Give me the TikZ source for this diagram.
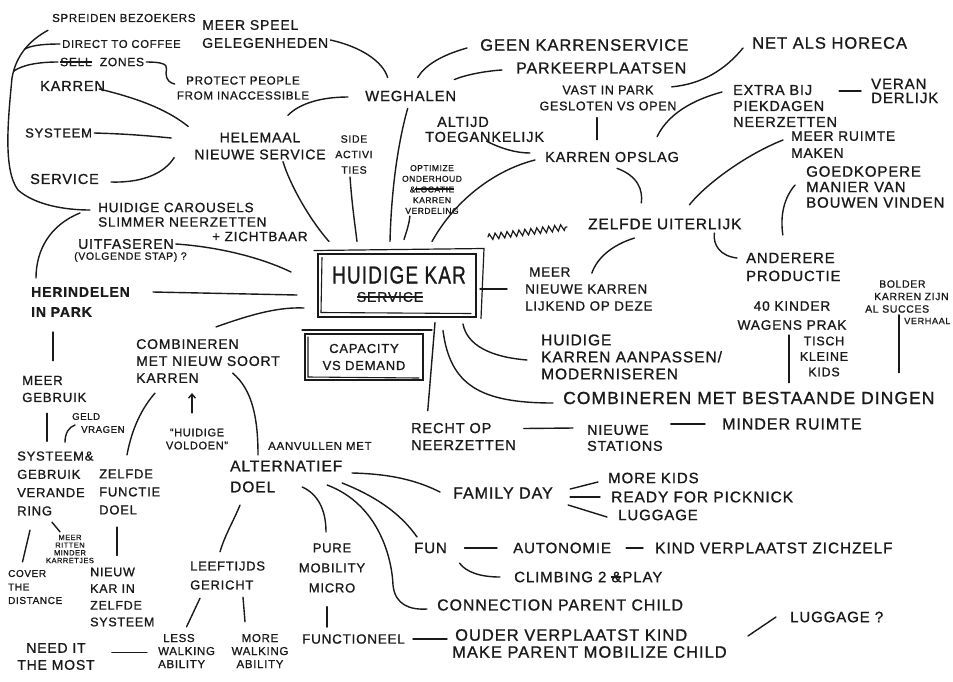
\documentclass[tikz,border=0pt]{standalone}
\usepackage{fontspec}
\newfontfamily\hand[LetterSpace=6,FakeBold=1]{Liberation Sans}
\usetikzlibrary{calc,decorations.pathmorphing,arrows.meta}
\newlength\strklen
\newcommand\strk[1]{\settowidth{\strklen}{#1}\rlap{\rule[0.3em]{\strklen}{1.4pt}}#1}
\definecolor{ink}{HTML}{1A1A1A}
\tikzset{
  ft/.style 2 args={font=\hand\fontsize{#1}{#2}\selectfont},
  ftb/.style 2 args={font=\hand\bfseries\fontsize{#1}{#2}\selectfont},
  lbl/.style={inner sep=2pt, align=left, text=ink},
  boxed/.style={draw=ink, line width=2pt, inner sep=0pt},
  lk/.style={line width=1.4pt, line cap=round, color=ink},
}
\begin{document}
\begin{tikzpicture}[x=1pt,y=1pt]
\fill[white] (0,-681) rectangle (953,0);
\useasboundingbox (0,-681) rectangle (953,0);

% ---------- nodes ----------
\node[lbl,ft={11.5}{14},anchor=west] (spreiden) at (50,-18) {SPREIDEN BEZOEKERS};
\node[lbl,ft={14}{18},anchor=west] (meerspeel) at (200,-34) {MEER SPEEL\\GELEGENHEDEN};
\node[lbl,ft={11.3}{14},anchor=west] (direct) at (60,-44) {DIRECT TO COFFEE};
\node[lbl,ft={12}{14},anchor=west] (zones) at (58,-62) {\strk{SELL}\ \ ZONES};
\node[lbl,ft={11.6}{15},align=center] (protect) at (243,-88) {PROTECT PEOPLE\\FROM INACCESSIBLE};
\node[lbl,ft={14.5}{17},anchor=west] (karren) at (38,-86) {KARREN};
\node[lbl,ft={13}{17},anchor=west] (systeem) at (23,-133) {SYSTEEM};
\node[lbl,ft={14.5}{17},anchor=west] (service) at (28,-179) {SERVICE};
\node[lbl,ft={14}{17},align=center] (helemaal) at (260,-146) {HELEMAAL\\NIEUWE SERVICE};
\node[lbl,ft={13.5}{14.5},anchor=west] (carousels) at (96,-222) {HUIDIGE CAROUSELS\\SLIMMER NEERZETTEN\\\hspace*{114pt}+ ZICHTBAAR};
\node[lbl,ft={14}{16},anchor=west] (uitf) at (76,-244) {UITFASEREN};
\node[lbl,ft={10.5}{12},anchor=west] (volg) at (72,-257) {(VOLGENDE STAP) ?};
\node[lbl,ftb={14}{20},anchor=west] (herindelen) at (29,-302) {HERINDELEN\\IN PARK};
\node[lbl,ft={14}{17},anchor=west] (combnieuw) at (134,-361) {COMBINEREN\\MET NIEUW SOORT\\KARREN};
\node[lbl,ft={13.2}{17},anchor=west] (meergebruik) at (20,-389) {MEER\\GEBRUIK};
\node[lbl,ft={9.6}{13},anchor=west] (geld) at (70,-423) {GELD\\\hspace*{9pt}VRAGEN};
\node[lbl,ft={11}{13},align=center] (voldoen) at (197,-439) {“HUIDIGE\\VOLDOEN”};
\node[lbl,ft={11.5}{14},anchor=west] (aanvullen) at (266,-446) {AANVULLEN MET};
\node[lbl,ft={15.5}{21},anchor=west] (alternatief) at (228,-476.5) {ALTERNATIEF\\DOEL};
\node[lbl,ft={13}{18.3},anchor=west] (systeemamp) at (15,-483.5) {SYSTEEM\&\\GEBRUIK\\VERANDE\\RING};
\node[lbl,ft={13}{18},anchor=west] (zelfdefunctie) at (97,-492) {ZELFDE\\FUNCTIE\\DOEL};
\node[lbl,ft={7.5}{7.7},align=center,inner sep=1pt] (meerritten) at (70,-549) {MEER\\RITTEN\\MINDER\\KARRETJES};
\node[lbl,ft={10}{13.5},anchor=west] (cover) at (6,-587) {COVER\\THE\\DISTANCE};
\node[lbl,ft={12.5}{16.7},anchor=west] (nieuwkar) at (88,-597) {NIEUW\\KAR IN\\ZELFDE\\SYSTEEM};
\node[lbl,ft={13}{19},anchor=west] (leeftijds) at (188,-575.5) {LEEFTIJDS\\GERICHT};
\node[lbl,ft={13}{20},align=center] (pure) at (332,-568) {PURE\\MOBILITY\\MICRO};
\node[lbl,ft={13.4}{16},anchor=west] (functioneel) at (300,-639) {FUNCTIONEEL};
\node[lbl,ft={11.5}{13},anchor=west] (less) at (156,-651) {\hspace*{5pt}LESS\\WALKING\\ABILITY};
\node[lbl,ft={11.5}{13},align=center] (more) at (260,-651) {MORE\\WALKING\\ABILITY};
\node[lbl,ft={14}{17},align=center] (needit) at (56,-656.5) {NEED IT\\THE MOST};
\node[lbl,ft={16}{18},anchor=west] (familyday) at (451,-493) {FAMILY DAY};
\node[lbl,ft={15}{17},anchor=west] (morekids) at (606,-478) {MORE KIDS};
\node[lbl,ft={15.5}{17},anchor=west] (ready) at (609,-497) {READY FOR PICKNICK};
\node[lbl,ft={15}{17},anchor=west] (luggagea) at (616,-515) {LUGGAGE};
\node[lbl,ft={15}{17},anchor=west] (fun) at (412,-548) {FUN};
\node[lbl,ft={15}{17},anchor=west] (autonomie) at (511,-548) {AUTONOMIE};
\node[lbl,ft={15.4}{17},anchor=west] (kind) at (653,-548) {KIND VERPLAATST ZICHZELF};
\node[lbl,ft={15}{17},anchor=west] (climbing) at (512,-577) {CLIMBING 2 \strk{\&}PLAY};
\node[lbl,ft={15.9}{17},anchor=west] (connection) at (435,-605) {CONNECTION PARENT CHILD};
\node[lbl,ft={16.5}{17},anchor=west] (ouder) at (450,-643.5) {\hspace*{3pt}OUDER VERPLAATST KIND\\MAKE PARENT MOBILIZE CHILD};
\node[lbl,ft={15}{17},anchor=west] (luggageb) at (788,-617) {LUGGAGE ?};
\node[lbl,ft={14.5}{17},anchor=west] (recht) at (409,-436.5) {RECHT OP\\NEERZETTEN};
\node[lbl,ft={14.3}{16},anchor=west] (stations) at (585,-438) {NIEUWE\\STATIONS};
\node[lbl,ft={16}{17},anchor=west] (minder) at (720,-424) {MINDER RUIMTE};
\node[lbl,ft={17.5}{18},anchor=west] (combbest) at (561,-398) {COMBINEREN MET BESTAANDE DINGEN};
\node[lbl,ft={15.5}{17},anchor=west] (aanpassen) at (539,-357) {HUIDIGE\\KARREN AANPASSEN/\\MODERNISEREN};
\node[lbl,ft={13.4}{17},anchor=west] (meernieuwe) at (523,-289) {\hspace*{4pt}MEER\\NIEUWE KARREN\\LIJKEND OP DEZE};

\node[boxed,minimum width=158pt,minimum height=63pt] (kar) at (397,-285) {};
\node[lbl,ft={19}{20}] (kartitle) at (399,-275) {\scalebox{1}[1.3]{HUIDIGE KAR}};
\node[lbl,ft={14}{14}] (karsvc) at (390,-297) {\strk{SERVICE}};
\node[boxed,minimum width=118pt,minimum height=46pt,inner sep=2pt,align=center,text=ink,ft={13}{17}] (capacity) at (364,-357) {CAPACITY\\VS DEMAND};

\node[lbl,ft={15.4}{17},anchor=west] (zelfdeuit) at (586,-224) {ZELFDE UITERLIJK};
\node[lbl,ft={14.8}{18},anchor=west] (anderere) at (744,-267) {ANDERERE\\PRODUCTIE};
\node[lbl,ft={13.7}{19},align=center] (kinder) at (792,-315.5) {40 KINDER\\WAGENS PRAK};
\node[lbl,ft={12.5}{15.5},align=center] (tisch) at (824,-356.5) {TISCH\\KLEINE\\KIDS};
\node[lbl,ft={10.5}{12.5},anchor=west] (bolder) at (863,-296.5) {\hspace*{14pt}BOLDER\\\hspace*{9pt}KARREN ZIJN\\AL SUCCES};
\node[lbl,ft={9.2}{12},anchor=west] (verhaal) at (902,-321) {VERHAAL};
\node[lbl,ft={13.8}{17},anchor=west] (meerruimte) at (789,-144.5) {MEER RUIMTE\\MAKEN};
\node[lbl,ft={15}{15.5},anchor=west] (goedkopere) at (804,-187) {GOEDKOPERE\\MANIER VAN\\BOUWEN VINDEN};
\node[lbl,ft={14.4}{16},anchor=west] (extrabij) at (731,-106) {EXTRA BIJ\\PIEKDAGEN\\NEERZETTEN};
\node[lbl,ft={15}{14},anchor=west] (veranderlijk) at (869,-91) {VERAN\\DERLIJK};
\node[lbl,ft={16.5}{18},anchor=west] (netals) at (750,-43) {NET ALS HORECA};
\node[lbl,ft={16.5}{18},anchor=west] (geen) at (478,-45) {GEEN KARRENSERVICE};
\node[lbl,ft={15.9}{18},anchor=west] (parkeer) at (514,-68) {PARKEERPLAATSEN};
\node[lbl,ft={12.5}{16},align=center] (vast) at (608,-98) {VAST IN PARK\\GESLOTEN VS OPEN};
\node[lbl,ft={14.8}{17},anchor=west] (weghalen) at (363,-96) {WEGHALEN};
\node[lbl,ft={14.5}{15},anchor=west] (altijd) at (423,-129.5) {\hspace*{12pt}ALTIJD\\TOEGANKELIJK};
\node[lbl,ft={14.5}{17},anchor=west] (opslag) at (543,-157) {KARREN OPSLAG};
\node[lbl,ft={10.6}{15.5},align=center] (side) at (354,-154.5) {SIDE\\ACTIVI\\TIES};
\node[lbl,ft={8.5}{10.7},align=center] (optimize) at (432,-189.5) {OPTIMIZE\\ONDERHOUD\\\&\strk{LOCATIE}\\KARREN\\VERDELING};

% ---------- connectors ----------
\begin{scope}[lk]
% left bracket
\draw ([shift={(-2,-6)}]spreiden.south west) .. controls (30,-40) and (16,-55) .. (12,-78)
      .. controls (8,-120) and (3,-170) .. (18,-190)
      .. controls (35,-205) and (65,-210) .. ([shift={(-6,12)}]carousels.west);
\coordinate (bj1) at (24.75,-49.1);
\coordinate (bj2) at (13.5,-71.3);
\draw (direct.west) .. controls (40,-44) and (30,-46) .. (bj1);
\draw (zones.west) .. controls (38,-62) and (22,-65) .. (bj2);
\draw ([shift={(-16,9)}]carousels.west) .. controls (50,-225) and (36,-250) .. ([shift={(7,7)}]herindelen.north west);
% brace zones -> protect
\draw (zones.east) .. controls (172,-62) and (166,-68) .. (166,-73) .. controls (166,-80) and (170,-83) .. ([shift={(0,4)}]protect.west);
% into HELEMAAL NIEUWE SERVICE
\draw ([shift={(-8,-3)}]karren.east) .. controls (145,-100) and (170,-112) .. ([shift={(-4,4)}]helemaal.north west);
\draw (systeem.east) .. controls (130,-134) and (150,-136) .. ([shift={(-21,8)}]helemaal.west);
\draw ([shift={(10,-3)}]service.east) .. controls (145,-183) and (165,-172) .. ([shift={(-18,4)}]helemaal.south west);
\draw ([shift={(23,0)}]helemaal.south) .. controls (290,-185) and (310,-220) .. ([shift={(12,11)}]kar.north west);
\draw ([shift={(-40,15)}]helemaal.north east) .. controls (300,-103) and (322,-97) .. ([shift={(-15,-1)}]weghalen.west);
% into WEGHALEN
\draw ([shift={(0,-6)}]meerspeel.east) .. controls (362,-47) and (383,-62) .. ([shift={(-23,11)}]weghalen.north);
\draw ([shift={(-11,-3)}]geen.west) .. controls (442,-55) and (425,-65) .. ([shift={(7,11)}]weghalen.north);
\draw ([shift={(-12,-2)}]parkeer.west) .. controls (485,-71) and (465,-75) .. ([shift={(-4,9)}]weghalen.north east);
% into HUIDIGE KAR from above
\draw ([shift={(-3,-5)}]weghalen.south) .. controls (396,-150) and (391,-200) .. ([shift={(73,11)}]kar.north west);
\draw ([shift={(-4,-1)}]side.south) .. controls (352,-205) and (355,-225) .. ([shift={(40,11)}]kar.north west);
\draw ([shift={(10,0)}]optimize.south west) .. controls (409,-225) and (406,-233) .. ([shift={(87,13)}]kar.north west);
\draw ([shift={(-8,-3)}]opslag.west) .. controls (495,-170) and (455,-200) .. ([shift={(115,11)}]kar.north west);
% KARREN OPSLAG cluster
\draw ([shift={(2,3)}]altijd.south) .. controls (500,-148) and (515,-153) .. ([shift={(-13,4)}]opslag.west);
\path ([shift={(-11,-5)}]vast.south) coordinate (vs1);
\draw[shorten >=10pt] (vs1) -- (vs1 |- opslag.north);
\draw ([shift={(-7,-5)}]netals.west) .. controls (725,-70) and (702,-84) .. ([shift={(-7,-3.5)}]vast.north east);
\draw ([shift={(-9,14)}]extrabij.west) .. controls (700,-98) and (670,-110) .. ([shift={(-24,13)}]opslag.north east);
\draw[shorten >=8pt] (extrabij.east |- veranderlijk.west) -- (veranderlijk.west);
\draw ([shift={(5,-4)}]opslag.south) .. controls (638,-176) and (643,-190) .. ([shift={(-23.5,13.5)}]zelfdeuit.north);
% ZELFDE UITERLIJK cluster
\draw ([shift={(-6,4.5)}]meerruimte.west) .. controls (745,-155) and (705,-185) .. ([shift={(24.5,11.5)}]zelfdeuit.north);
\draw ([shift={(-9,2)}]goedkopere.west) .. controls (784,-198) and (780,-215) .. ([shift={(-10.5,15.7)}]anderere.north);
\draw ([shift={(49.5,-1.5)}]zelfdeuit.south) .. controls (713,-245) and (720,-256) .. ([shift={(-7,9)}]anderere.west);
\draw ([shift={(-30.5,-6.5)}]zelfdeuit.south) .. controls (612,-245) and (597,-258) .. ([shift={(3,-8)}]meernieuwe.north);
\coordinate (wv1) at (488,-237);
\coordinate (wv2) at ([shift={(-19,-3)}]zelfdeuit.west);
\draw[line width=1.2pt,decorate,decoration={zigzag,segment length=6pt,amplitude=3pt}] (wv1) -- (wv2);
% right of HUIDIGE KAR
\draw[shorten <=3pt,shorten >=16pt] (kar.east |- meernieuwe.west) -- (meernieuwe.west);
\draw ([shift={(-14,-6.5)}]kar.south east) .. controls (467,-345) and (490,-357) .. ([shift={(-12,-3)}]aanpassen.west);
\draw ([shift={(46,-13)}]kar.south) .. controls (450,-385) and (480,-403) .. ([shift={(-8,-5)}]combbest.west);
\draw ([shift={(38,-5)}]kar.south) -- ([shift={(-35.7,10)}]recht.north);
\draw ([shift={(6,8)}]recht.east) -- ([shift={(-12,10)}]stations.west);
\draw[shorten <=6pt,shorten >=15pt] (stations.east |- minder.west) -- (minder.west);
\path ([shift={(-3,-3)}]kinder.south) coordinate (kd1);
\draw[shorten >=7pt] (kd1) -- (kd1 |- combbest.north);
\path ([shift={(36,0)}]bolder.south west) coordinate (bd1);
\draw[shorten >=17pt] (bd1) -- (bd1 |- combbest.north);
% left of HUIDIGE KAR
\draw (uitf.east) .. controls (220,-247) and (262,-258) .. ([shift={(-26,13)}]kar.west);
\draw ([shift={(21,10)}]herindelen.east) -- ([shift={(-20,-10)}]kar.west);
\draw ([shift={(8,10)}]combnieuw.north) .. controls (255,-313) and (280,-307) .. ([shift={(-13,9.5)}]kar.south west);
% lower left
\path ([xshift=24pt]herindelen.south west) coordinate (hd1);
\draw[shorten <=13pt,shorten >=13pt] (hd1) -- (hd1 |- meergebruik.north);
\path ([xshift=27pt]meergebruik.south west) coordinate (mg1);
\draw[shorten <=9pt,shorten >=8pt] (mg1) -- (mg1 |- systeemamp.north);
\draw ([shift={(50,7)}]systeemamp.north west) .. controls (65,-433) and (69,-427) .. ([shift={(5,-2)}]geld.west);
\draw ([shift={(30,12.4)}]zelfdefunctie.north west) .. controls (132,-428) and (142,-408) .. ([shift={(21,-8)}]combnieuw.south west);
\path ([shift={(-5,13.6)}]voldoen.north) coordinate (ar1);
\draw[-{Straight Barb[length=4pt,width=7pt]},shorten >=8pt] (ar1) -- (ar1 |- combnieuw.south);
\draw ([shift={(-49.4,12)}]combnieuw.south east) .. controls (253,-390) and (258,-420) .. ([shift={(30,3.5)}]alternatief.north west);
\draw ([shift={(15,-12.4)}]systeemamp.south west) -- ([shift={(-12.7,5.9)}]cover.north);
\draw ([shift={(37,-4.4)}]systeemamp.south west) -- ([shift={(-10,1.75)}]meerritten.north);
\path ([shift={(20,-10.4)}]zelfdefunctie.south west) coordinate (zf1);
\draw[shorten >=10pt] (zf1) -- (zf1 |- nieuwkar.north);
% ALTERNATIEF DOEL cluster
\draw ([shift={(12,-10.5)}]alternatief.south west) .. controls (233,-522) and (225,-535) .. ([shift={(32,7.4)}]leeftijds.north west);
\draw ([shift={(12,-6.4)}]leeftijds.south west) -- ([yshift=5pt]less.north);
\draw ([shift={(55,-5.4)}]leeftijds.south west) -- ([shift={(-15,10)}]more.north);
\path ([shift={(15,4)}]needit.east) coordinate (nd1);
\draw[shorten >=9pt] (nd1) -- (nd1 -| less.west);
\draw ([shift={(-42.3,-10.5)}]alternatief.east) .. controls (318,-494) and (326,-510) .. ([shift={(-6,9.4)}]pure.north);
\path ([shift={(-5,-12)}]pure.south) coordinate (pf1);
\draw[shorten >=5pt] (pf1) -- (pf1 |- functioneel.north);
\draw[shorten <=6pt,shorten >=3pt] (functioneel.east) -- (functioneel.east -| ouder.west);
\draw ([shift={(-17.3,-8.5)}]alternatief.east) .. controls (380,-505) and (392,-560) .. (393,-585)
      .. controls (395,-605) and (410,-610) .. ([shift={(-8,-4)}]connection.west);
\draw ([shift={(-2.3,-6.5)}]alternatief.east) .. controls (385,-500) and (405,-520) .. ([shift={(5,3.6)}]fun.north west);
\draw ([shift={(7.7,3.5)}]alternatief.east) .. controls (395,-474) and (420,-482) .. ([shift={(-11,1)}]familyday.west);
\draw ([shift={(15.2,4)}]familyday.east) -- ([shift={(-8,-4)}]morekids.west);
\draw ([shift={(15.2,-4)}]familyday.east) -- ([shift={(-9,0)}]ready.west);
\draw ([shift={(13.2,-12)}]familyday.east) -- ([shift={(-9,-2)}]luggagea.west);
\draw[shorten <=15.5pt,shorten >=14pt] (fun.east) -- (autonomie.west);
\draw[shorten <=13pt,shorten >=10pt] (autonomie.east) -- (kind.west);
\draw ([shift={(10.5,-7.65)}]fun.south east) .. controls (466,-572) and (480,-577) .. ([shift={(-12,0)}]climbing.west);
\draw ([shift={(19,7.5)}]ouder.east) -- ([shift={(-12,0)}]luggageb.west);
% hand-drawn double strokes of the boxes
\draw[line width=1.2pt] ([shift={(-3,2)}]kar.north west) -- ([shift={(7,4)}]kar.north east) -- ([shift={(4,-1)}]kar.south east);
\draw[line width=1.1pt] ([shift={(5,-5)}]kar.north west) -- ([shift={(4,5)}]kar.south west) -- ([shift={(-6,4)}]kar.south east);
\draw[line width=1.1pt] ([shift={(-2,3)}]capacity.north west) -- ([shift={(8,3)}]capacity.north east);
\draw[line width=1.1pt] ([shift={(4,-4)}]capacity.north west) -- ([shift={(4,4)}]capacity.south west) -- ([shift={(-5,3)}]capacity.south east);
\end{scope}
\end{tikzpicture}
\end{document}
